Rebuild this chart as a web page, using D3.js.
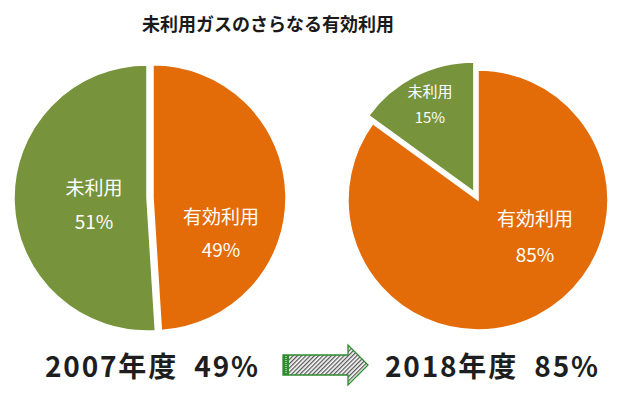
<!DOCTYPE html>
<head>
    <meta charset="utf-8">
    <style>
        body { margin: 0; background: #fff; }
        text { font-family: "Noto Sans CJK JP", "Noto Sans", sans-serif; }
    </style>
</head>
<body>
    <script src="https://d3js.org/d3.v7.min.js"></script>
    <script>

        // data
        var title = "未利用ガスのさらなる有効利用";
        var categories = ["有効利用", "未利用"];
        var years = ["2007年度", "2018年度"];
        var values2007 = [49, 51];
        var values2018 = [85, 15];
        var exploded = ["有効利用", "未利用"];   // slice pulled out in each pie

        var colors = {"有効利用": "#e36c09", "未利用": "#77933c"};

        var width = 624, height = 394;

        var svg = d3.select("body")
            .append("svg")
            .attr("width", width)
            .attr("height", height);

        // hatch pattern for the arrow
        var defs = svg.append("defs");
        defs.append("pattern")
            .attr("id", "hatch")
            .attr("patternUnits", "userSpaceOnUse")
            .attr("width", 3)
            .attr("height", 3)
            .attr("patternTransform", "rotate(45)")
          .append("rect")
            .attr("width", 1.3)
            .attr("height", 3)
            .attr("fill", "#555");

        // title
        svg.append("text")
            .attr("x", 268)
            .attr("y", 31)
            .attr("text-anchor", "middle")
            .attr("font-size", 18)
            .attr("font-weight", "bold")
            .attr("fill", "#1a1a1a")
            .text(title);

        var pie = d3.pie().sort(null).value(function(d) { return d.value; });

        // layout of each pie (center, radius, explode distance, label offsets)
        var layouts = [
            {cx: 147, cy: 198, r: 133, explode: 6,
             labels: {"有効利用": [68, 33, 19, 1.75], "未利用": [-53, 4, 19, 1.75]}},
            {cx: 478, cy: 200, r: 130, explode: 9,
             labels: {"有効利用": [57, 33, 19, 1.85], "未利用": [-44, -90, 15, 1.75]}}
        ];

        function drawPie(values, layout, explodeKey) {
            var data = categories.map(function(c, i) { return {name: c, value: values[i]}; });
            var arcs = pie(data);
            var arc = d3.arc().innerRadius(0).outerRadius(layout.r);

            var g = svg.append("g")
                .attr("transform", "translate(" + layout.cx + "," + layout.cy + ")");

            var slice = g.selectAll("g.slice")
                .data(arcs)
                .enter().append("g")
                .attr("class", "slice")
                .attr("transform", function(d) {
                    if (d.data.name !== explodeKey) return null;
                    var a = (d.startAngle + d.endAngle) / 2;
                    return "translate(" + (Math.sin(a) * layout.explode) + "," + (-Math.cos(a) * layout.explode) + ")";
                });

            slice.append("path")
                .attr("d", arc)
                .attr("fill", function(d) { return colors[d.data.name]; })
                .attr("stroke", "#fff")
                .attr("stroke-width", 1.5);

            var lbl = slice.append("text")
                .attr("text-anchor", "middle")
                .attr("fill", "#fff")
                .attr("font-size", function(d) { return layout.labels[d.data.name][2]; })
                .attr("transform", function(d) {
                    var p = layout.labels[d.data.name];
                    return "translate(" + p[0] + "," + p[1] + ")";
                });
            lbl.append("tspan")
                .attr("x", 0)
                .attr("dy", function(d) { return -layout.labels[d.data.name][2] * 0.35; })
                .text(function(d) { return d.data.name; });
            lbl.append("tspan")
                .attr("x", 0)
                .attr("dy", function(d) { var p = layout.labels[d.data.name]; return p[2] * p[3]; })
                .text(function(d) { return d.value + "%"; });
        }

        drawPie(values2007, layouts[0], exploded[0]);
        drawPie(values2018, layouts[1], exploded[1]);

        // bottom captions
        var captions = [
            {x: 45, text: years[0] + "\u00a0\u00a0" + values2007[0] + "%"},
            {x: 385, text: years[1] + "\u00a0\u00a0" + values2018[0] + "%"}
        ];
        svg.selectAll("text.caption")
            .data(captions)
            .enter().append("text")
            .attr("class", "caption")
            .attr("x", function(d) { return d.x; })
            .attr("y", 377)
            .attr("font-size", 28)
            .attr("font-weight", "bold")
            .attr("fill", "#1e1e1e")
            .attr("textLength", 213)
            .attr("lengthAdjust", "spacing")
            .text(function(d) { return d.text; });

        // arrow between the captions
        var arrow = svg.append("g").attr("transform", "translate(283,365)");
        arrow.append("path")
            .attr("d", "M0,-10 L65,-10 L65,-20 L85,0 L65,20 L65,10 L0,10 Z")
            .attr("fill", "url(#hatch)")
            .attr("stroke", "#2e8b2e")
            .attr("stroke-width", 1.3);
        arrow.append("rect")
            .attr("x", 0).attr("y", -10)
            .attr("width", 6).attr("height", 20)
            .attr("fill", "#2e8b2e");
        arrow.append("line")
            .attr("x1", 3).attr("x2", 3)
            .attr("y1", -9).attr("y2", 9)
            .attr("stroke", "#fff")
            .attr("stroke-width", 1)
            .attr("stroke-dasharray", "1,1");

    </script>
</body>
